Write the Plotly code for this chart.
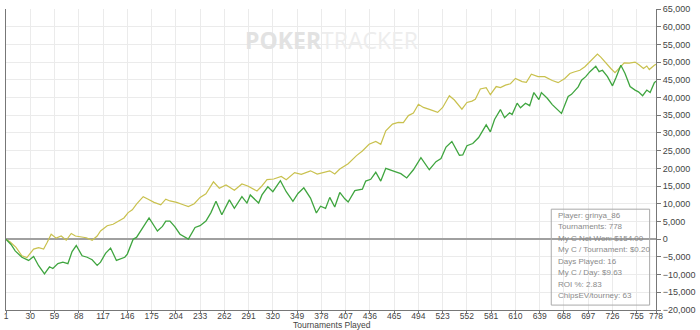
import plotly.graph_objects as go

# ---- data ----
green_t = [1, 7, 12, 20, 28, 34, 40, 47, 53, 57, 63, 69, 75, 80, 85, 92, 98, 104, 110, 114, 120, 126,
           133, 139, 143, 146, 153, 157, 164, 172, 182, 188, 192, 197, 203, 209, 219, 227, 233, 240,
           246, 252, 259, 268, 274, 283, 289, 293, 303, 307, 314, 320, 329, 336, 344, 350, 357, 365,
           372, 377, 383, 388, 394, 400, 406, 410, 418, 427, 431, 437, 443, 449, 455, 460, 466, 473,
           480, 488, 497, 507, 515, 521, 527, 534, 543, 547, 552, 559, 566, 575, 580, 585, 592, 597,
           603, 606, 612, 616, 622, 627, 632, 638, 641, 648, 654, 665, 669, 673, 677, 681, 685, 689,
           694, 699, 706, 710, 714, 720, 726, 730, 736, 741, 747, 753, 757, 762, 767, 771, 776, 778]
green_v = [0, -1500, -3300, -5100, -6000, -4900, -7500, -9800, -7800, -8300, -6900, -6500, -6900, -3500,
           -1800, -4700, -5100, -5800, -7400, -6500, -4000, -2500, -6000, -5500, -5100, -4200, 0, 500,
           3000, 6000, 2300, 3600, 5100, 5100, 3500, 1400, 0, 3300, 3800, 5100, 7500, 10700, 6900,
           11100, 8700, 12000, 10200, 12500, 10200, 12500, 14800, 13400, 16500, 13400, 10700, 12900,
           14500, 11600, 7400, 9300, 8700, 11800, 9100, 13200, 11400, 10500, 13700, 14100, 16400,
           16900, 18900, 16400, 20000, 19500, 19100, 18500, 17300, 19600, 23000, 19600, 21900, 22800,
           26000, 27600, 23700, 23800, 26400, 27000, 28700, 32300, 30300, 33800, 36600, 34300, 35700,
           35200, 38400, 37100, 38400, 37700, 41400, 39400, 41400, 39800, 38000, 35500, 38000, 40300,
           40900, 42100, 43000, 44900, 45900, 47300, 48800, 47300, 47700, 45900, 43300, 45500, 49100,
           46800, 43100, 42100, 41600, 40500, 42100, 41400, 44200, 44600]

ev_t = [1, 6, 13, 20, 26, 30, 34, 40, 46, 50, 55, 61, 67, 73, 79, 84, 90, 97, 104, 110, 114, 122, 129,
        137, 142, 147, 152, 157, 165, 171, 178, 186, 192, 197, 205, 212, 219, 226, 233, 240, 249, 256,
        264, 274, 283, 290, 301, 306, 313, 321, 330, 336, 346, 354, 365, 373, 380, 388, 394, 400, 410,
        420, 427, 435, 443, 449, 455, 463, 470, 476, 482, 488, 494, 500, 508, 517, 523, 531, 537, 546,
        552, 558, 562, 568, 575, 580, 587, 592, 598, 604, 610, 618, 623, 629, 637, 645, 654, 661, 669,
        675, 680, 687, 693, 700, 708, 712, 717, 724, 729, 736, 740, 746, 753, 758, 763, 767, 770, 776, 778]
ev_v = [0, -800, -2300, -4700, -5200, -4000, -2800, -2400, -2800, -1000, 1400, 300, 900, -300, 1600,
        900, 600, 400, -300, 900, 2300, 3800, 4200, 5200, 6000, 7500, 8300, 9900, 12000, 11300, 10400,
        9700, 11300, 10800, 10400, 9800, 9200, 10000, 11800, 12800, 16200, 14400, 15300, 13800, 15600,
        15000, 13600, 14800, 16800, 17000, 17700, 16800, 18800, 18300, 19300, 18400, 18800, 19300,
        18400, 19800, 21300, 23600, 24900, 26800, 27600, 26800, 30600, 32500, 33000, 32900, 34900,
        35600, 38100, 37200, 36600, 35800, 37200, 40500, 39300, 36700, 38600, 39000, 39500, 42400,
        42800, 40800, 43100, 42800, 43500, 43900, 45400, 44500, 44300, 46600, 45900, 45900, 44800,
        44200, 45400, 46800, 47200, 47700, 48700, 50300, 52300, 51400, 50000, 48200, 47000, 48700,
        49800, 49700, 50000, 49200, 48200, 48900, 47900, 49100, 49400]

x_ticks = [1 + 29 * i for i in range(27)] + [778]
info_lines = ["Player: grinya_86", "Tournaments: 778", "My C Net Won: $154.00",
              "My C / Tournament: $0.20", "Days Played: 16", "My C / Day: $9.63",
              "ROI %: 2.83", "ChipsEV/tourney: 63"]

FONT = "Liberation Sans"

fig = go.Figure()
fig.add_trace(go.Scatter(x=ev_t, y=ev_v, mode="lines",
                         line=dict(color="#c9c14e", width=1.2), showlegend=False))
fig.add_trace(go.Scatter(x=green_t, y=green_v, mode="lines",
                         line=dict(color="#3fa53f", width=1.3), showlegend=False))

L, R, T, B = 4, 32, 4, 20
PW, PH = 700 - L - R, 330 - T - B


def px(xp):
    return (xp - L) / PW


def py(yp):
    return (330 - B - yp) / PH


fig.update_layout(
    width=700, height=330,
    margin=dict(l=L, r=R, t=T, b=B),
    paper_bgcolor="white", plot_bgcolor="white",
    font=dict(family=FONT, size=9, color="#444"),
    xaxis=dict(range=[1, 778], tickvals=x_ticks, ticktext=[str(v) for v in x_ticks],
               showgrid=True, gridcolor="#ebebeb", gridwidth=1,
               showline=True, linecolor="#777", linewidth=1,
               ticks="outside", ticklen=2, tickcolor="#777",
               ticklabeloverflow="allow",
               tickfont=dict(size=8.5, color="#444"), zeroline=False),
    yaxis=dict(range=[-20000, 65000], dtick=5000, tick0=0, tickformat=",",
               side="right", showgrid=True, gridcolor="#ebebeb", gridwidth=1,
               showline=True, mirror=True, linecolor="#777", linewidth=1,
               ticks="outside", ticklen=4, tickcolor="#777",
               ticklabeloverflow="allow",
               tickfont=dict(size=9, color="#444"),
               zeroline=True, zerolinecolor="#a0a0a0", zerolinewidth=2),
)
try:
    fig.update_xaxes(ticklabelstandoff=-4)
except Exception:
    fig.update_xaxes(ticklen=0)

# x axis title
fig.add_annotation(text="Tournaments Played", xref="paper", yref="paper",
                   x=px(337), y=py(325.5), showarrow=False,
                   font=dict(size=8.5, color="#444"), xanchor="center", yanchor="middle")

# watermark
fig.add_annotation(text="<b><span style='color:#e2e2e2'>POKER</span></b>"
                        "<span style='color:#ededed'>TRACKER</span>",
                   xref="paper", yref="paper", x=px(336), y=py(36), showarrow=False,
                   font=dict(size=23, family="Open Sans"), xanchor="center", yanchor="middle")

# info box
fig.add_shape(type="rect", xref="paper", yref="paper",
              x0=px(561), x1=px(661.5), y0=py(305), y1=py(207.5),
              line=dict(color="#aaaaaa", width=1), fillcolor="rgba(0,0,0,0)", layer="above")
for i, s in enumerate(info_lines):
    fig.add_annotation(text=s, xref="paper", yref="paper", x=px(565.5), y=py(214 + i * 11.6),
                       showarrow=False, xanchor="left", yanchor="middle",
                       font=dict(size=8, color="#8a8a8a", family=FONT))

fig.write_html("out.html")
